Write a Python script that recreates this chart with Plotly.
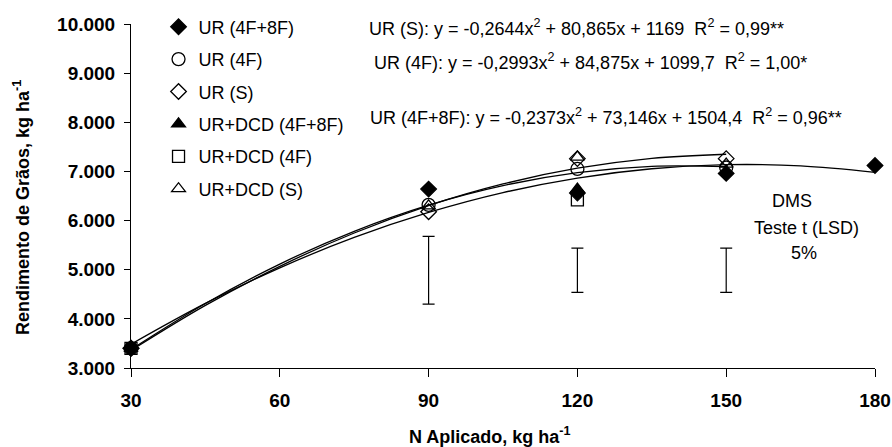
import plotly.graph_objects as go

# ---------------- data ----------------
doses = [30, 90, 120, 150, 180]
doses_s = [30, 90, 120, 150]

ur_4f8f = [3400, 6640, 6560, 6960, 7120]
ur_4f = [3400, 6320, 7050, 7080]
ur_s = [3400, 6180, 7260, 7260]
urdcd_4f8f = [3400, None, 6640, None]
urdcd_4f = [3400, None, 6420, None]
urdcd_s = [3400, 6300, 7290, 7150]

curve_x_long = [30, 45, 60, 75, 90, 105, 120, 135, 150, 165, 180]
curve_4f8f = [3485, 4315, 5039, 5656, 6165, 6569, 6865, 7054, 7137, 7113, 6982]
curve_x_short = [30, 45, 60, 75, 90, 105, 120, 135, 150]
curve_4f = [3377, 4313, 5115, 5782, 6314, 6712, 6975, 7103, 7097]
curve_s = [3357, 4273, 5069, 5747, 6305, 6745, 7065, 7267, 7350]

# DMS (LSD 5%) bars
dms_x = [90, 120, 150]
dms_low = [4300, 4540, 4540]
dms_high = [5680, 5440, 5440]

y_ticks = [3000, 4000, 5000, 6000, 7000, 8000, 9000, 10000]
y_ticklabels = ["3.000", "4.000", "5.000", "6.000", "7.000", "8.000", "9.000", "10.000"]
x_ticks = [30, 60, 90, 120, 150, 180]

equations = [
    "UR (S): y = -0,2644x<sup>2</sup> + 80,865x + 1169  R<sup>2</sup> = 0,99**",
    "UR (4F): y = -0,2993x<sup>2</sup> + 84,875x + 1099,7  R<sup>2</sup> = 1,00*",
    "UR (4F+8F): y = -0,2373x<sup>2</sup> + 73,146x + 1504,4  R<sup>2</sup> = 0,96**",
]

FONT = "Arial, Liberation Sans, sans-serif"
fig = go.Figure()

# curves
for cx, cy in [(curve_x_long, curve_4f8f), (curve_x_short, curve_4f), (curve_x_short, curve_s)]:
    fig.add_trace(go.Scatter(x=cx, y=cy, mode="lines", line=dict(color="black", width=1.3, shape="spline"),
                             showlegend=False, hoverinfo="skip"))

# DMS bars
dms_mid = [(a + b) / 2 for a, b in zip(dms_low, dms_high)]
dms_half = [(b - a) / 2 for a, b in zip(dms_low, dms_high)]
fig.add_trace(go.Scatter(x=dms_x, y=dms_mid, mode="markers", marker=dict(size=1, color="rgba(0,0,0,0)"),
                         error_y=dict(type="data", array=dms_half, symmetric=True, color="black",
                                      thickness=1.2, width=6),
                         showlegend=False, hoverinfo="skip"))

series = [
    ("UR (4F+8F)", doses, ur_4f8f, "diamond", 12),
    ("UR (4F)", doses_s, ur_4f, "circle-open", 13),
    ("UR (S)", doses_s, ur_s, "diamond-open", 12),
    ("UR+DCD (4F+8F)", doses_s, urdcd_4f8f, "triangle-up", 12),
    ("UR+DCD (4F)", doses_s, urdcd_4f, "square-open", 12),
    ("UR+DCD (S)", doses_s, urdcd_s, "triangle-up-open", 12),
]
for i, (name, xs, ys, sym, sz) in enumerate(series):
    fig.add_trace(go.Scatter(x=xs, y=ys, mode="markers", name=name, legendgroup=f"g{i}",
                             marker=dict(symbol=sym, color="black", size=sz,
                                         line=dict(color="black", width=1.3))))

PW = 744  # plot-area width in px
annotations = []
eq_pos = [(77.6, 9939), (78.6, 9247), (77.8, 8108)]
for txt, (ax, ay) in zip(equations, eq_pos):
    annotations.append(dict(x=ax, y=ay, xref="x", yref="y", text=txt, showarrow=False,
                            xanchor="left", yanchor="middle", font=dict(family=FONT, size=18, color="black")))
for txt, ax, ay in [("DMS", 163.3, 6398), ("Teste t (LSD)", 166.1, 5849), ("5%", 165.7, 5340)]:
    annotations.append(dict(x=ax, y=ay, xref="x", yref="y", text=txt, showarrow=False,
                            xanchor="center", yanchor="middle", font=dict(family=FONT, size=18, color="black")))
annotations.append(dict(x=(490 - 131) / PW, y=(368 - 435) / 344, xref="paper", yref="paper",
                        text="<b>N Aplicado, kg ha<sup>-1</sup></b>", showarrow=False,
                        xanchor="center", yanchor="middle", font=dict(family=FONT, size=18, color="black")))
annotations.append(dict(x=(21 - 131) / PW, y=(368 - 208) / 344, xref="paper", yref="paper",
                        text="<b>Rendimento de Grãos, kg ha<sup>-1</sup></b>", showarrow=False, textangle=-90,
                        xanchor="center", yanchor="middle", font=dict(family=FONT, size=18, color="black")))

# plot area at x 131..875, y 24..368 (body margin removed in post_script)
fig.update_layout(
    width=892, height=447,
    margin=dict(l=131, r=17, t=24, b=79, autoexpand=False),
    paper_bgcolor="white", plot_bgcolor="white",
    font=dict(family=FONT, color="black"),
    showlegend=True,
    legend=dict(x=0.037, y=1.045, xanchor="left", yanchor="top", bgcolor="rgba(0,0,0,0)",
                font=dict(family=FONT, size=18, color="black"), tracegroupgap=6, traceorder="grouped",
                itemwidth=30),
    annotations=annotations,
    xaxis=dict(range=[30, 180], tickvals=x_ticks, ticks="outside", ticklen=8, tickcolor="black",
               showline=True, linecolor="black", linewidth=1, showgrid=False, zeroline=False,
               tickfont=dict(family=FONT, size=19, color="black", weight="bold"), ticklabelstandoff=7,
               ticklabeloverflow="allow", automargin=False),
    yaxis=dict(range=[3000, 10000], tickvals=y_ticks, ticktext=y_ticklabels, ticks="outside", ticklen=6,
               tickcolor="black", showline=True, linecolor="black", linewidth=1, showgrid=False,
               zeroline=False, tickfont=dict(family=FONT, size=19, color="black", weight="bold"),
               ticklabelstandoff=5, ticklabeloverflow="allow", automargin=False),
)
for tr in fig.data:
    tr.cliponaxis = False

fig.write_html("out.html", config={"displayModeBar": False},
               post_script="document.body.style.margin='0';document.body.style.overflow='hidden';")
